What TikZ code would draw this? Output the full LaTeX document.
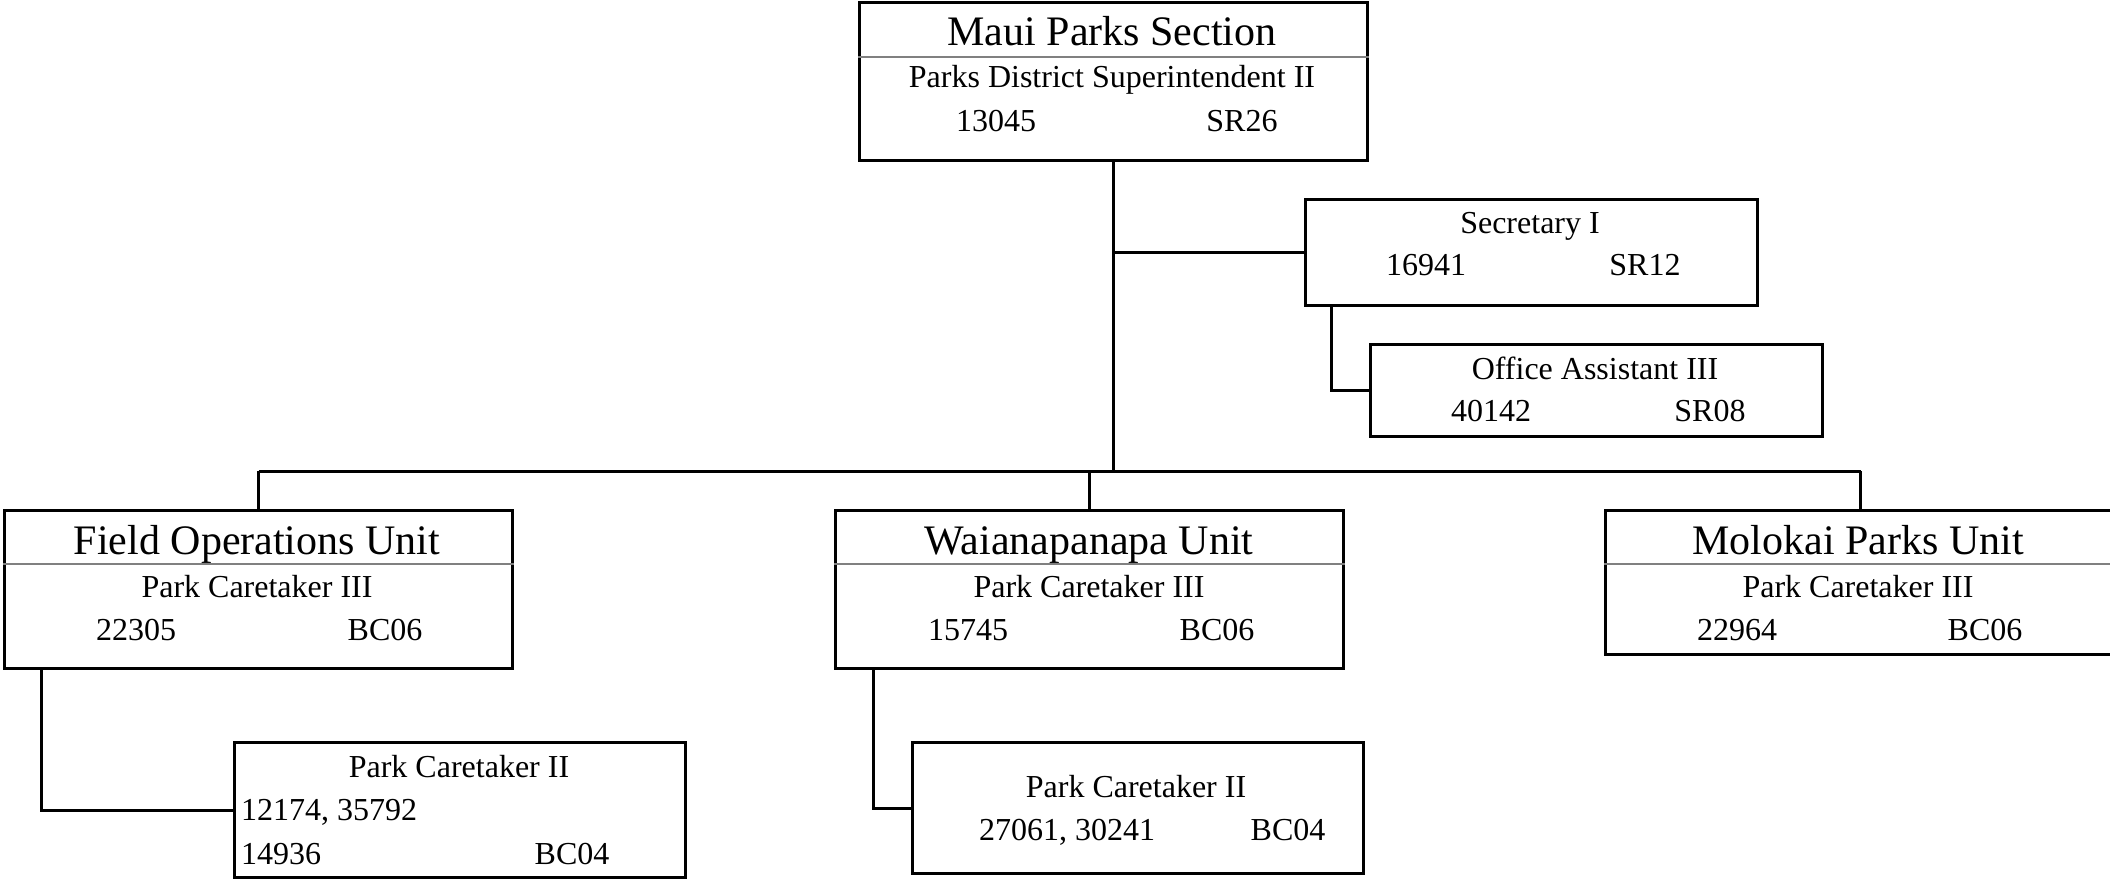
\documentclass[tikz,border=0pt]{standalone}
\usepackage{fontspec}
\setmainfont{Liberation Serif}
\usetikzlibrary{positioning}
\newcommand{\ttlsize}{\fontsize{42}{48}\selectfont}
\newcommand{\txtsize}{\fontsize{32}{38}\selectfont}

\begin{document}
\begin{tikzpicture}[x=1pt, y=-1pt,
    caixa/.style={draw, line width=3pt, rectangle, anchor=north west, inner sep=0pt},
    linha/.style={line width=3pt},
    divisor/.style={line width=1.5pt, gray},
    titulo/.style={font=\ttlsize, anchor=base, inner sep=0pt},
    texto/.style={font=\txtsize, anchor=base, inner sep=0pt}]
        \useasboundingbox (0,0) rectangle (2110,882);

        % Caixas
        \node[caixa, minimum width=508pt, minimum height=157.5pt] (sect) at (858,1.5) {};
        \node[caixa, minimum width=452pt, minimum height=106pt] (secy) at (1304,198) {};
        \node[caixa, minimum width=452pt, minimum height=92pt] (oa) at (1369,343) {};
        \node[caixa, minimum width=508pt, minimum height=158pt] (fo) at (3,509) {};
        \node[caixa, minimum width=508pt, minimum height=158pt] (wai) at (834,509) {};
        \node[caixa, minimum width=510pt, minimum height=144pt] (mol) at (1604,509) {};
        \node[caixa, minimum width=451pt, minimum height=135pt] (pcfo) at (233,741) {};
        \node[caixa, minimum width=451pt, minimum height=131pt] (pcwai) at (911,741) {};

        % Divisores
        \draw[divisor] (sect.west |- 0,57) -- (sect.east |- 0,57);
        \draw[divisor] (fo.west |- 0,564) -- (fo.east |- 0,564);
        \draw[divisor] (wai.west |- 0,564) -- (wai.east |- 0,564);
        \draw[divisor] (mol.west |- 0,564) -- (mol.east |- 0,564);

        % Textos
        \node[titulo] (sect-t) at (1112,46) {Maui Parks Section};
        \node[texto] (sect-c) at (1112,88) {Parks District Superintendent II};
        \node[texto] (sect-n) at (996,132) {13045};
        \node[texto] (sect-s) at (1242,132) {SR26};

        \node[texto] (secy-c) at (1530,234) {Secretary I};
        \node[texto] (secy-n) at (1426,276) {16941};
        \node[texto] (secy-s) at (1645,276) {SR12};

        \node[texto] (oa-c) at (1595,380) {Office Assistant III};
        \node[texto] (oa-n) at (1491,421) {40142};
        \node[texto] (oa-s) at (1710,421) {SR08};

        \node[titulo] (fo-t) at (257,554) {Field Operations Unit};
        \node[texto] (fo-c) at (257,597) {Park Caretaker III};
        \node[texto] (fo-n) at (136,640) {22305};
        \node[texto] (fo-s) at (385,640) {BC06};

        \node[titulo] (wai-t) at (1089,554) {Waianapanapa Unit};
        \node[texto] (wai-c) at (1089,597) {Park Caretaker III};
        \node[texto] (wai-n) at (968,640) {15745};
        \node[texto] (wai-s) at (1217,640) {BC06};

        \node[titulo] (mol-t) at (1858,554) {Molokai Parks Unit};
        \node[texto] (mol-c) at (1858,597) {Park Caretaker III};
        \node[texto] (mol-n) at (1737,640) {22964};
        \node[texto] (mol-s) at (1985,640) {BC06};

        \node[texto] (pcfo-c) at (459,777) {Park Caretaker II};
        \node[texto, anchor=base west] (pcfo-n) at (241,820) {12174, 35792};
        \node[texto, anchor=base west] (pcfo-m) at (241,864) {14936};
        \node[texto] (pcfo-s) at (572,864) {BC04};

        \node[texto] (pcwai-c) at (1136,797) {Park Caretaker II};
        \node[texto] (pcwai-n) at (1067,840) {27061, 30241};
        \node[texto] (pcwai-s) at (1288,840) {BC04};

        % Ligações
        \coordinate (bus) at (0,471);
        \draw[linha] (sect.south) -- (sect.south |- bus);
        \draw[linha] (sect.south |- secy.west) -- (secy.west);
        \draw[linha] ([xshift=27pt]secy.south west) |- (oa.west);
        \draw[linha] (fo.north |- bus) -- (mol.north |- bus);
        \draw[linha] (fo.north) -- (fo.north |- bus);
        \draw[linha] (wai.north) -- (wai.north |- bus);
        \draw[linha] (mol.north) -- (mol.north |- bus);
        \draw[linha] ([xshift=38pt]fo.south west) |- (pcfo.west);
        \draw[linha] ([xshift=39pt]wai.south west) |- (pcwai.west);
    \end{tikzpicture}
\end{document}
